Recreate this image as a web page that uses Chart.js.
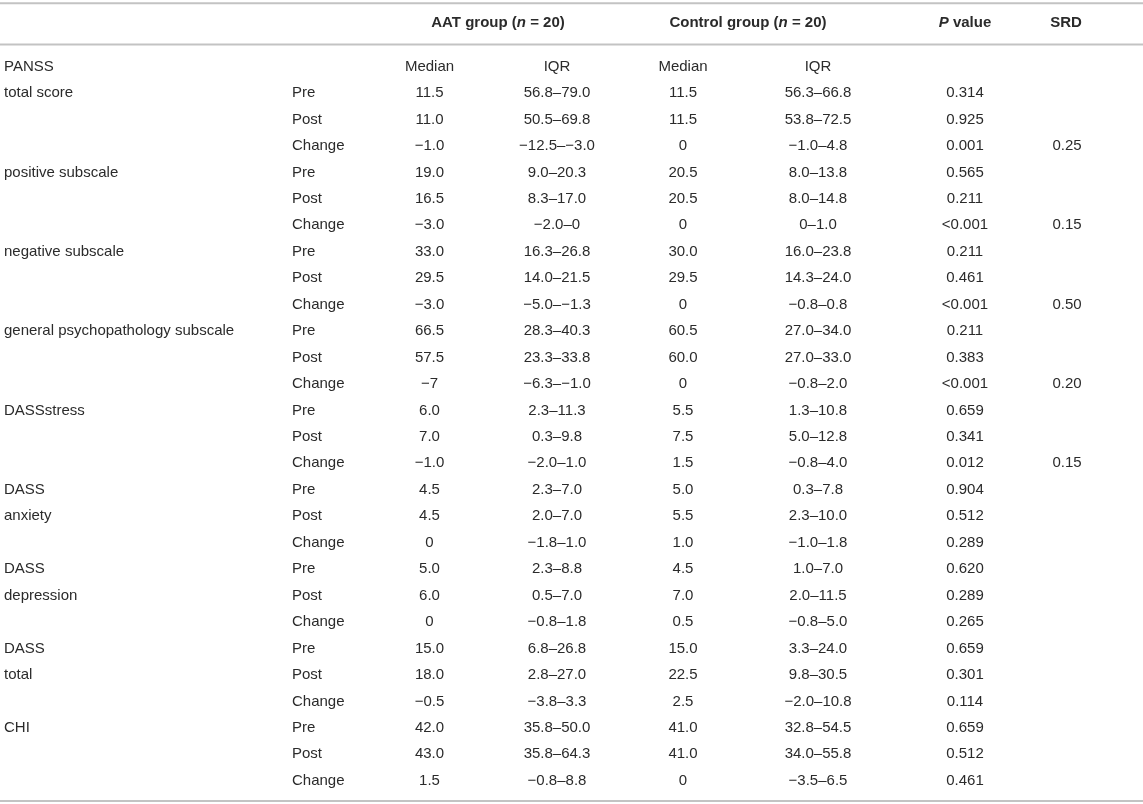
<!DOCTYPE html>
<html>
<head>
<meta charset="utf-8">
<script src="https://cdn.jsdelivr.net/npm/chart.js@4.4.1/dist/chart.umd.min.js"></script>
<style>
html,body{margin:0;padding:0;background:#ffffff;overflow:hidden}
canvas{display:block}
</style>
</head>
<body>
<canvas id="c" width="1143" height="804"></canvas>
<script>
// ---------------- DATA ----------------
const headerLabels = ['AAT group (n = 20)', 'Control group (n = 20)', 'P value', 'SRD'];

const measures = ['PANSS', 'total score', '', '', 'positive subscale', '', '', 'negative subscale', '', '',
  'general psychopathology subscale', '', '', 'DASSstress', '', '', 'DASS', 'anxiety', '',
  'DASS', 'depression', '', 'DASS', 'total', '', 'CHI', '', ''];

const timepoints = ['', 'Pre', 'Post', 'Change', 'Pre', 'Post', 'Change', 'Pre', 'Post', 'Change',
  'Pre', 'Post', 'Change', 'Pre', 'Post', 'Change', 'Pre', 'Post', 'Change',
  'Pre', 'Post', 'Change', 'Pre', 'Post', 'Change', 'Pre', 'Post', 'Change'];

const aatMedian = ['Median', '11.5', '11.0', '\u22121.0', '19.0', '16.5', '\u22123.0', '33.0', '29.5', '\u22123.0',
  '66.5', '57.5', '\u22127', '6.0', '7.0', '\u22121.0', '4.5', '4.5', '0', '5.0', '6.0', '0',
  '15.0', '18.0', '\u22120.5', '42.0', '43.0', '1.5'];

const aatIQR = ['IQR', '56.8\u201379.0', '50.5\u201369.8', '\u221212.5\u2013\u22123.0', '9.0\u201320.3', '8.3\u201317.0', '\u22122.0\u20130',
  '16.3\u201326.8', '14.0\u201321.5', '\u22125.0\u2013\u22121.3', '28.3\u201340.3', '23.3\u201333.8', '\u22126.3\u2013\u22121.0',
  '2.3\u201311.3', '0.3\u20139.8', '\u22122.0\u20131.0', '2.3\u20137.0', '2.0\u20137.0', '\u22121.8\u20131.0',
  '2.3\u20138.8', '0.5\u20137.0', '\u22120.8\u20131.8', '6.8\u201326.8', '2.8\u201327.0', '\u22123.8\u20133.3',
  '35.8\u201350.0', '35.8\u201364.3', '\u22120.8\u20138.8'];

const ctrlMedian = ['Median', '11.5', '11.5', '0', '20.5', '20.5', '0', '30.0', '29.5', '0',
  '60.5', '60.0', '0', '5.5', '7.5', '1.5', '5.0', '5.5', '1.0', '4.5', '7.0', '0.5',
  '15.0', '22.5', '2.5', '41.0', '41.0', '0'];

const ctrlIQR = ['IQR', '56.3\u201366.8', '53.8\u201372.5', '\u22121.0\u20134.8', '8.0\u201313.8', '8.0\u201314.8', '0\u20131.0',
  '16.0\u201323.8', '14.3\u201324.0', '\u22120.8\u20130.8', '27.0\u201334.0', '27.0\u201333.0', '\u22120.8\u20132.0',
  '1.3\u201310.8', '5.0\u201312.8', '\u22120.8\u20134.0', '0.3\u20137.8', '2.3\u201310.0', '\u22121.0\u20131.8',
  '1.0\u20137.0', '2.0\u201311.5', '\u22120.8\u20135.0', '3.3\u201324.0', '9.8\u201330.5', '\u22122.0\u201310.8',
  '32.8\u201354.5', '34.0\u201355.8', '\u22123.5\u20136.5'];

const pValues = ['', '0.314', '0.925', '0.001', '0.565', '0.211', '<0.001', '0.211', '0.461', '<0.001',
  '0.211', '0.383', '<0.001', '0.659', '0.341', '0.012', '0.904', '0.512', '0.289',
  '0.620', '0.289', '0.265', '0.659', '0.301', '0.114', '0.659', '0.512', '0.461'];

const srdValues = ['', '', '', '0.25', '', '', '0.15', '', '', '0.50', '', '', '0.20', '', '', '0.15',
  '', '', '', '', '', '', '', '', '', '', '', ''];

// ---------------- LAYOUT / STYLE ----------------
const W = 1143;
const COL = { measure: 4, time: 292, aatMed: 429.5, aatIqr: 557, ctlMed: 683, ctlIqr: 818, p: 965, srd: 1067 };
const HEADER_COL = [498, 748, 965, 1066];
const Y_MIN = -2.52, Y_MAX = 27.88;
const HEADER_ROW = -1.64;
const RULES = [-2.395, -0.835, 27.77];
const FONT_FAMILY = '"Liberation Sans", Arial, Helvetica, sans-serif';
const FONT_SIZE = 15;
const TEXT_COLOR = '#2b2b2b';
const RULE_COLOR = '#c3c3c3';
const ITALIC_TOKENS = /\b(n|P)\b/;

function textDataset(texts, x, align, bold) {
  return {
    type: 'scatter',
    data: texts.map((t, i) => ({ x: x, y: i })),
    texts: texts,
    textAlign: align,
    bold: !!bold,
    pointRadius: 0,
    pointHoverRadius: 0
  };
}

function ruleDataset(y) {
  return {
    type: 'line',
    data: [{ x: 0, y: y }, { x: W, y: y }],
    borderColor: RULE_COLOR,
    borderWidth: 2,
    pointRadius: 0,
    fill: false
  };
}

const headerDataset = {
  type: 'scatter',
  data: headerLabels.map((t, i) => ({ x: HEADER_COL[i], y: HEADER_ROW })),
  texts: headerLabels,
  textAlign: 'center',
  bold: true,
  rich: true,
  pointRadius: 0
};

function splitRich(text) {
  const parts = [];
  let rest = text;
  while (rest.length) {
    const m = rest.match(ITALIC_TOKENS);
    if (!m) { parts.push({ text: rest, italic: false }); break; }
    if (m.index > 0) parts.push({ text: rest.slice(0, m.index), italic: false });
    parts.push({ text: m[0], italic: true });
    rest = rest.slice(m.index + m[0].length);
  }
  return parts;
}

const tableTextPlugin = {
  id: 'tableText',
  afterDatasetsDraw(chart) {
    const ctx = chart.ctx;
    chart.data.datasets.forEach((ds, di) => {
      if (!ds.texts) return;
      const meta = chart.getDatasetMeta(di);
      ctx.save();
      ctx.fillStyle = TEXT_COLOR;
      ctx.textBaseline = 'middle';
      ctx.textAlign = 'left';
      meta.data.forEach((el, i) => {
        const t = ds.texts[i];
        if (!t) return;
        const segs = ds.rich ? splitRich(t) : [{ text: t, italic: false }];
        let total = 0;
        segs.forEach(s => {
          s.font = (s.italic ? 'italic ' : '') + (ds.bold ? 'bold ' : '') + FONT_SIZE + 'px ' + FONT_FAMILY;
          ctx.font = s.font;
          s.w = ctx.measureText(s.text).width;
          total += s.w;
        });
        let x = ds.textAlign === 'center' ? el.x - total / 2 : (ds.textAlign === 'right' ? el.x - total : el.x);
        segs.forEach(s => {
          ctx.font = s.font;
          ctx.fillText(s.text, x, el.y);
          x += s.w;
        });
      });
      ctx.restore();
    });
  }
};

new Chart(document.getElementById('c'), {
  type: 'scatter',
  data: {
    datasets: [
      ...RULES.map(ruleDataset),
      headerDataset,
      textDataset(measures, COL.measure, 'left'),
      textDataset(timepoints, COL.time, 'left'),
      textDataset(aatMedian, COL.aatMed, 'center'),
      textDataset(aatIQR, COL.aatIqr, 'center'),
      textDataset(ctrlMedian, COL.ctlMed, 'center'),
      textDataset(ctrlIQR, COL.ctlIqr, 'center'),
      textDataset(pValues, COL.p, 'center'),
      textDataset(srdValues, COL.srd, 'center')
    ]
  },
  options: {
    responsive: false,
    animation: false,
    events: [],
    layout: { padding: 0 },
    plugins: { legend: { display: false }, tooltip: { enabled: false }, title: { display: false } },
    scales: {
      x: { type: 'linear', min: 0, max: W, display: false },
      y: { type: 'linear', min: Y_MIN, max: Y_MAX, reverse: true, display: false }
    }
  },
  plugins: [tableTextPlugin]
});
</script>
</body>
</html>
